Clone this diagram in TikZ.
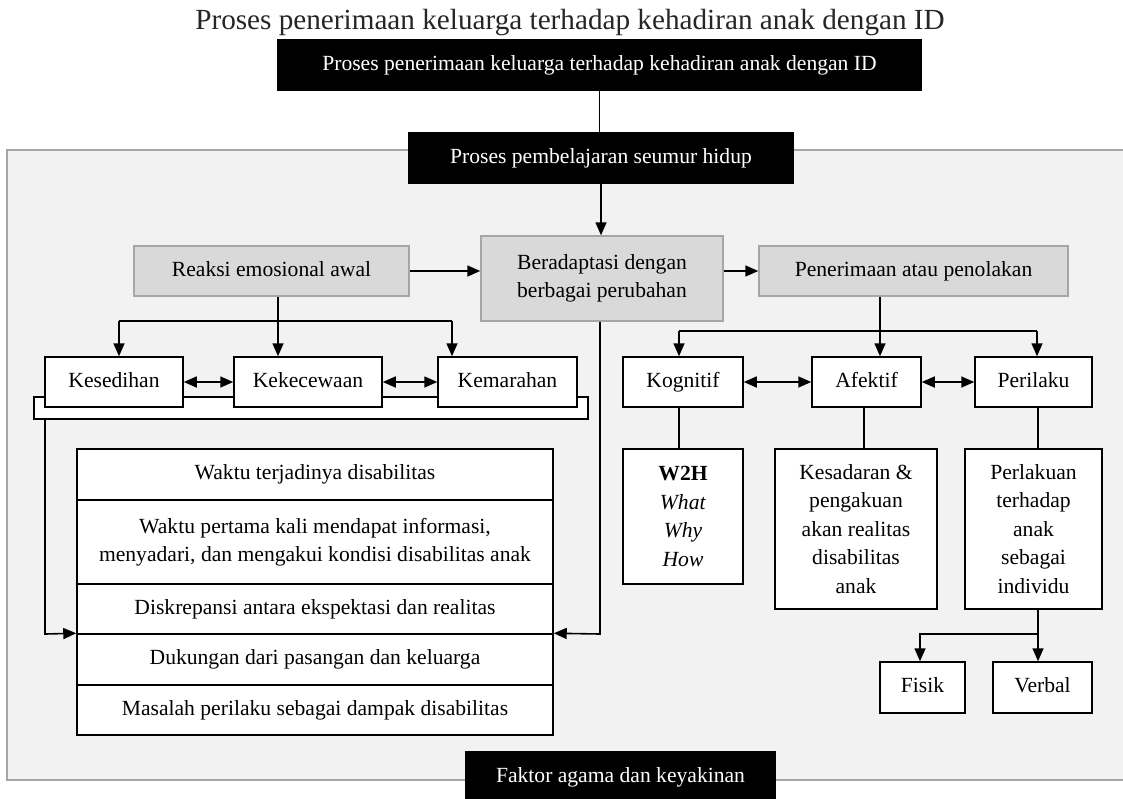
\documentclass[tikz,border=0pt]{standalone}
\usepackage{fontspec}
\setmainfont{Liberation Serif}
\usetikzlibrary{arrows.meta}
\definecolor{framefill}{HTML}{F2F2F2}
\definecolor{framedge}{HTML}{A6A6A6}
\definecolor{boxgray}{HTML}{D9D9D9}
\tikzset{
  teks/.style={font=\fontsize{21.6}{28.5}\selectfont, align=center, inner sep=0pt},
  satu/.style={text height=15pt, text depth=5pt},
  blackbox/.style={teks, satu, fill=black, text=white, minimum height=52pt},
  graybox/.style={teks, draw=framedge, fill=boxgray, line width=1.5pt},
  whitebox/.style={teks, draw=black, fill=white, line width=1.5pt},
  arr/.style={-{Triangle[length=13pt,width=11pt]}, line width=1.6pt},
  dblarr/.style={{Triangle[length=13pt,width=11pt]}-{Triangle[length=13pt,width=11pt]}, line width=1.6pt},
  link/.style={line width=1.2pt},
}
\begin{document}
\begin{tikzpicture}[x=1pt,y=-1pt]
  \useasboundingbox (0,0) rectangle (1123,798);
  % Frame of the lifelong process
  \draw[framedge, fill=framefill, line width=1.5pt] (7,150) rectangle (1140,780);

  % Title and the two black boxes
  \node[font=\fontsize{29.2}{34}\selectfont, text=black!85] (judul) at (570,23) {Proses penerimaan keluarga terhadap kehadiran anak dengan ID};
  \node[blackbox, minimum width=645pt] (atas) at (599.5,65) {Proses penerimaan keluarga terhadap kehadiran anak dengan ID};
  \node[blackbox, minimum width=386pt] (belajar) at (601,158) {Proses pembelajaran seumur hidup};
  \draw[link] (atas.south) -- (atas.south |- belajar.north);
  \node[blackbox, minimum width=311pt] (agama) at (620.5,777) {Faktor agama dan keyakinan};

  % Main stages
  \node[graybox, satu, minimum width=275pt, minimum height=50pt] (reaksi) at (271.5,271) {Reaksi emosional awal};
  \node[graybox, minimum width=242pt, minimum height=85pt] (adapt) at (602,278.5) {Beradaptasi dengan\\berbagai perubahan};
  \node[graybox, satu, minimum width=309pt, minimum height=50pt] (terima) at (913.5,271) {Penerimaan atau penolakan};
  \draw[arr] (belajar.south) -- (belajar.south |- adapt.north);
  \draw[arr] (reaksi.east) -- (reaksi.east -| adapt.west);
  \draw[arr] (adapt.east |- terima.west) -- (terima.west);

  % Emotional reactions
  \node[whitebox, minimum width=554pt, minimum height=22pt] (kurung) at (311,408) {};
  \node[whitebox, satu, minimum width=138pt, minimum height=50pt] (sedih) at (114,382) {Kesedihan};
  \node[whitebox, satu, minimum width=148pt, minimum height=50pt] (kecewa) at (308,382) {Kekecewaan};
  \node[whitebox, satu, minimum width=139pt, minimum height=50pt] (marah) at (507.5,382) {Kemarahan};
  \coordinate (rk) at (119,321);
  \coordinate (rm) at (278,321);
  \coordinate (rn) at (452,321);
  \draw[line width=1.6pt] (reaksi.south -| rm) -- (rm);
  \draw[arr] (rm) -- (rm |- kecewa.north);
  \draw[arr] (rk) -- (rk |- sedih.north);
  \draw[arr] (rn) -- (rn |- marah.north);
  \draw[line width=1.6pt] (rk) -- (rn);
  \draw[dblarr] (sedih) -- (kecewa);
  \draw[dblarr] (kecewa) -- (marah);

  % Factors table
  \node[whitebox, satu, minimum width=476pt, minimum height=51pt] (baris1) at (315,474.5) {Waktu terjadinya disabilitas};
  \node[whitebox, minimum width=476pt, minimum height=84pt] (baris2) at (315,542) {Waktu pertama kali mendapat informasi,\\menyadari, dan mengakui kondisi disabilitas anak};
  \node[whitebox, satu, minimum width=476pt, minimum height=50pt] (baris3) at (315,609) {Diskrepansi antara ekspektasi dan realitas};
  \node[whitebox, satu, minimum width=476pt, minimum height=51pt] (baris4) at (315,659.5) {Dukungan dari pasangan dan keluarga};
  \node[whitebox, satu, minimum width=476pt, minimum height=50pt] (baris5) at (315,710) {Masalah perilaku sebagai dampak disabilitas};
  \coordinate (kiri) at (45,634);
  \coordinate (kanan) at (600,634);
  \draw[arr] (kurung.south -| kiri) -- (kiri) -- (baris4.north west);
  \draw[arr] (adapt.south -| kanan) -- (kanan) -- (baris4.north east);

  % Acceptance or rejection
  \node[whitebox, satu, minimum width=120pt, minimum height=50pt] (kognitif) at (683,382) {Kognitif};
  \node[whitebox, satu, minimum width=109pt, minimum height=50pt] (afektif) at (866.5,382) {Afektif};
  \node[whitebox, satu, minimum width=117pt, minimum height=50pt] (perilaku) at (1033.5,382) {Perilaku};
  \coordinate (pk) at (679,331);
  \coordinate (pm) at (880,331);
  \coordinate (pn) at (1037,331);
  \draw[line width=1.6pt] (terima.south -| pm) -- (pm);
  \draw[line width=1.6pt] (pk) -- (pn);
  \draw[arr] (pk) -- (pk |- kognitif.north);
  \draw[arr] (pm) -- (pm |- afektif.north);
  \draw[arr] (pn) -- (pn |- perilaku.north);
  \draw[dblarr] (kognitif) -- (afektif);
  \draw[dblarr] (afektif) -- (perilaku);

  % Details under each component
  \node[whitebox, minimum width=120pt, minimum height=135pt] (w2h) at (683,516.5) {\textbf{W2H}\\\textit{What}\\\textit{Why}\\\textit{How}};
  \node[whitebox, minimum width=162pt, minimum height=160pt] (sadar) at (856,529) {Kesadaran \&\\pengakuan\\akan realitas\\disabilitas\\anak};
  \node[whitebox, minimum width=137pt, minimum height=160pt] (perlakuan) at (1033.5,529) {Perlakuan\\terhadap\\anak\\sebagai\\individu};
  \draw[link] (kognitif.south -| pk) -- (pk |- w2h.north);
  \draw[link] (afektif.south -| 864,0) -- (864,449);
  \draw[link] (perilaku.south -| 1038,0) -- (1038,449);

  % Physical and verbal treatment
  \node[whitebox, satu, minimum width=85pt, minimum height=51pt] (fisik) at (922.5,687.5) {Fisik};
  \node[whitebox, satu, minimum width=99pt, minimum height=51pt] (verbal) at (1042.5,687.5) {Verbal};
  \coordinate (vb) at (1038,634);
  \coordinate (fb) at (920,634);
  \draw[arr] (perlakuan.south -| vb) -- (vb |- verbal.north);
  \draw[arr] (vb) -- (fb) -- (fb |- fisik.north);
\end{tikzpicture}
\end{document}
